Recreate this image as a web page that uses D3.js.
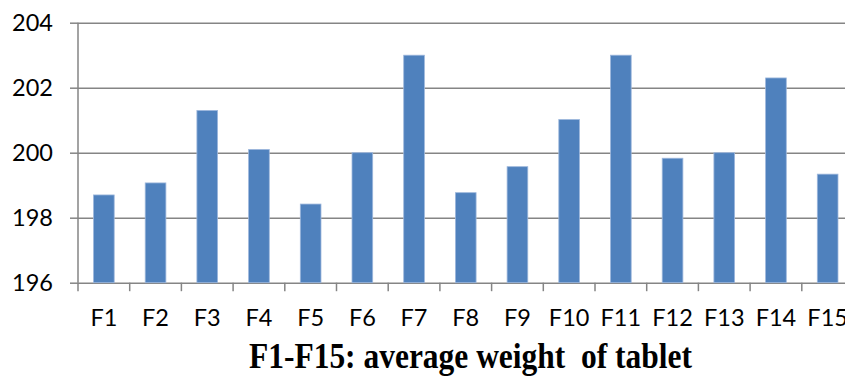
<!DOCTYPE html>
<html>
<head>
<meta charset="utf-8">
<script src="https://cdn.jsdelivr.net/npm/d3@7"></script>
<style>
  html, body { margin: 0; padding: 0; background: #fff; }
  svg { display: block; }
</style>
</head>
<body>
<svg id="chart" width="845" height="376"></svg>
<script>
// Formulation labels and their mean tablet weights (mg)
const categories = ["F1","F2","F3","F4","F5","F6","F7","F8","F9","F10","F11","F12","F13","F14","F15"];
const weights = [198.7, 199.07, 201.3, 200.1, 198.42, 200.0, 203.0, 198.77, 199.57, 201.02, 203.0, 199.83, 200.0, 202.3, 199.34];
const yTicks = [196, 198, 200, 202, 204];
const title = "F1-F15: average weight  of tablet";

const svg = d3.select("#chart");
const W = 845, H = 376;
const plot = { left: 78, right: 853.5, top: 22.7, bottom: 282.7 };

const x = d3.scaleBand()
  .domain(categories)
  .range([plot.left, plot.right])
  .paddingInner(0.6)
  .paddingOuter(0.3);

const y = d3.scaleLinear()
  .domain([196, 204])
  .range([plot.bottom, plot.top]);

const gridColor = "#858585";
const labelFont = "Lato, 'Open Sans', sans-serif";

// horizontal gridlines with short ticks left of the axis
const yAxis = d3.axisLeft(y)
  .tickValues(yTicks)
  .tickSize(plot.left - 70)
  .tickPadding(17)
  .tickFormat(d3.format("d"));

const gy = svg.append("g")
  .attr("transform", `translate(${plot.left},0)`)
  .call(yAxis);
gy.select(".domain").remove();
gy.selectAll(".tick line").attr("stroke", gridColor).attr("stroke-width", 1.5);
gy.selectAll(".tick").append("line")
  .attr("x1", 0).attr("x2", W)
  .attr("stroke", gridColor).attr("stroke-width", 1.5);
gy.selectAll(".tick text")
  .attr("font-family", labelFont)
  .attr("font-size", 23.5)
  .attr("fill", "#000");

// vertical axis line
svg.append("line")
  .attr("x1", plot.left).attr("x2", plot.left)
  .attr("y1", plot.top).attr("y2", plot.bottom)
  .attr("stroke", gridColor).attr("stroke-width", 1.5);

// category ticks sit on band boundaries
const step = x.step();
const boundaries = d3.range(categories.length + 1).map(i => plot.left + i * step);
svg.append("g").selectAll("line")
  .data(boundaries)
  .join("line")
  .attr("x1", d => d).attr("x2", d => d)
  .attr("y1", plot.bottom).attr("y2", plot.bottom + 8.5)
  .attr("stroke", gridColor).attr("stroke-width", 1.5);

// bars
svg.append("g").selectAll("rect")
  .data(categories.map((c, i) => ({ c, v: weights[i] })))
  .join("rect")
  .attr("x", d => x(d.c))
  .attr("width", x.bandwidth())
  .attr("y", d => y(d.v))
  .attr("height", d => y(196) - y(d.v))
  .attr("fill", "#4F81BD")
  .attr("stroke", "#9db7dc")
  .attr("stroke-width", 0.8);

// category labels
svg.append("g").selectAll("text")
  .data(categories)
  .join("text")
  .attr("x", d => x(d) + x.bandwidth() / 2)
  .attr("y", 326)
  .attr("text-anchor", "middle")
  .attr("font-family", labelFont)
  .attr("font-size", 23.5)
  .attr("fill", "#000")
  .text(d => d);

// caption below the chart
svg.append("text")
  .attr("x", 249)
  .attr("y", 367.5)
  .style("white-space", "pre")
  .attr("font-family", "'Liberation Serif', 'Times New Roman', serif")
  .attr("font-weight", "bold")
  .attr("font-size", 35)
  .attr("textLength", 443)
  .attr("lengthAdjust", "spacingAndGlyphs")
  .attr("fill", "#000")
  .text(title);
</script>
</body>
</html>
